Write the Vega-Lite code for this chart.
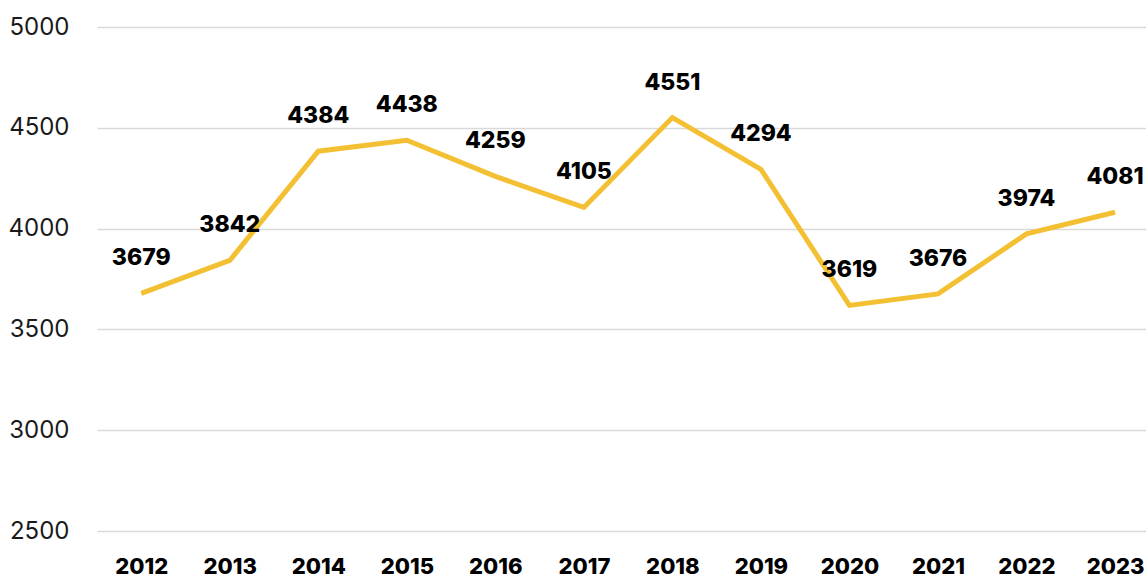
{
  "$schema": "https://vega.github.io/schema/vega-lite/v6.json",
  "width": 1049,
  "height": 504,
  "autosize": {"type": "none"},
  "padding": {"left": 97, "top": 27, "right": 0, "bottom": 47},
  "background": "white",
  "config": {"view": {"stroke": null}},
  "data": {"values": [
    {"year": 2012, "value": 3679},
    {"year": 2013, "value": 3842},
    {"year": 2014, "value": 4384},
    {"year": 2015, "value": 4438},
    {"year": 2016, "value": 4259},
    {"year": 2017, "value": 4105},
    {"year": 2018, "value": 4551},
    {"year": 2019, "value": 4294},
    {"year": 2020, "value": 3619},
    {"year": 2021, "value": 3676},
    {"year": 2022, "value": 3974},
    {"year": 2023, "value": 4081}
  ]},
  "encoding": {
    "x": {
      "field": "year", "type": "quantitative",
      "scale": {"domain": [2011.5, 2023.35], "nice": false, "zero": false},
      "axis": {
        "title": null, "values": [2012,2013,2014,2015,2016,2017,2018,2019,2020,2021,2022,2023],
        "format": "d", "grid": false, "domain": false, "ticks": false,
        "labelFont": "Inter", "labelFontSize": 22, "labelFontWeight": 800,
        "labelColor": "#000000", "labelPadding": 35, "labelBaseline": "middle"
      }
    },
    "y": {
      "field": "value", "type": "quantitative",
      "scale": {"domain": [2500, 5000], "nice": false, "zero": false},
      "axis": {
        "title": null, "values": [2500, 3000, 3500, 4000, 4500, 5000],
        "format": "d",
        "domain": false, "ticks": false, "grid": true,
        "gridColor": "#d9d9d9", "gridWidth": 1.5,
        "labelFont": "Inter", "labelFontSize": 24, "labelColor": "#1a1a1a",
        "labelPadding": 28
      }
    }
  },
  "layer": [
    {"mark": {"type": "line", "color": "#F4C033", "strokeWidth": 5, "strokeJoin": "miter"}},
    {
      "mark": {"type": "text", "dy": -35, "font": "Inter", "fontSize": 23, "fontWeight": 800, "color": "#000000", "baseline": "middle"},
      "encoding": {"text": {"field": "value", "type": "quantitative", "format": "d"}}
    }
  ]
}
